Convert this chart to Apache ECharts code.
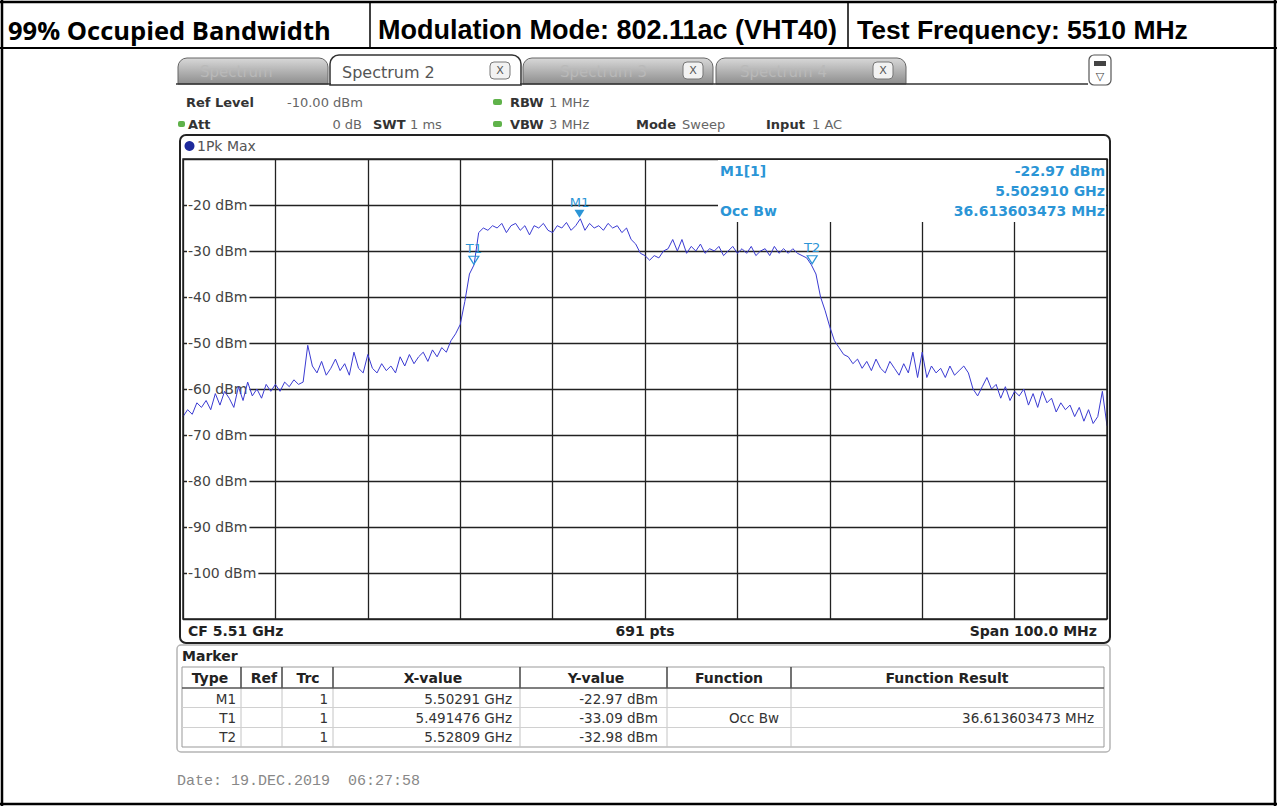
<!DOCTYPE html>
<html>
<head>
<meta charset="utf-8">
<script src="https://cdn.jsdelivr.net/npm/echarts@6/dist/echarts.min.js"></script>
<style>
html,body{margin:0;padding:0;background:#fff;}
#c{width:1277px;height:809px;}
</style>
</head>
<body>
<div id="c"></div>
<script>
// ---- data ----
const freqStartMHz = 5460;
const freqStepMHz = 0.5;
const levels = [
-66,-64.5,-65.5,-63,-64,-62.5,-64.5,-61,-63.5,-60.5,-62,-64,-59.5,-62.5,-58.5,-61.5,-60,-62,-59,-60.5,
-59,-60.5,-58.5,-59.5,-58,-59,-58.5,-50.5,-55,-56.5,-54,-57,-55.5,-53.5,-56,-54.5,-57,-52,-55.5,-56.5,
-52.5,-55.5,-56.5,-54.5,-56,-55,-56.5,-53,-55,-52.5,-54.5,-53,-52,-54,-51.5,-53,-51,-52,-49.5,-48,
-46,-41,-35,-33,-26,-25,-25.5,-24.5,-25,-24,-26,-24.5,-24,-25.5,-24.5,-26.5,-24.5,-25,-24,-25.5,
-26,-24.5,-25,-23.8,-25.5,-24.5,-23,-25.5,-24,-25,-24.5,-25.5,-24,-25,-24.5,-26,-25,-27.5,-28.5,-30.5,
-31,-32,-31,-31.5,-30,-29.5,-27.5,-30,-27.5,-30.5,-29,-30,-28.5,-30.5,-29.5,-30,-29,-31,-30,-29,
-30.5,-29.5,-30.5,-29,-31,-30,-29.5,-31,-29,-30.5,-29.5,-30.5,-29.5,-30.5,-31,-31.5,-33,-35,-40,-43,
-46.5,-49.5,-51,-52.5,-53,-54.5,-53.5,-55.5,-54,-56,-53.5,-55.5,-56.5,-54,-55.5,-57,-54.5,-56.5,-52,-57.5,
-52,-57.5,-55,-56.5,-55.5,-57.5,-55,-57,-56,-55,-56.5,-60,-61.5,-59.5,-57.5,-60,-59,-62,-59.5,-62.5,
-60.5,-61.5,-60,-63.5,-61,-64,-60.5,-63,-62,-65,-63,-64.5,-63.5,-66,-64,-67,-64.5,-67.5,-66,-60.5,
-68
];
const markerNames = ['M1', 'T1', 'T2'];
const markerFreqsMHz = [5502.91, 5491.476, 5528.09];
const markerLevels = [-22.97, -33.09, -32.98];
const xMinMHz = 5460, xMaxMHz = 5560, xStepMHz = 10;
const yMin = -110, yMax = -10, yStep = 10;

const headerTexts = ['99% Occupied Bandwidth', 'Modulation Mode: 802.11ac (VHT40)', 'Test Frequency: 5510 MHz'];
const tableHeader = ['Type', 'Ref', 'Trc', 'X-value', 'Y-value', 'Function', 'Function Result'];
const tableRows = [
  ['M1', '', '1', '5.50291 GHz', '-22.97 dBm', '', ''],
  ['T1', '', '1', '5.491476 GHz', '-33.09 dBm', 'Occ Bw', '36.613603473 MHz'],
  ['T2', '', '1', '5.52809 GHz', '-32.98 dBm', '', '']
];

// ---- chrome helpers ----
const G = [];
function line(x1, y1, x2, y2, stroke, lw, z) {
  G.push({type:'line', silent:true, z: z == null ? 10 : z, shape:{x1, y1, x2, y2}, style:{stroke: stroke || '#000', lineWidth: lw || 1}});
}
function rect(x, y, w, h, style, r, z) {
  G.push({type:'rect', silent:true, z: z == null ? 10 : z, shape:{x, y, width:w, height:h, r: r || 0}, style});
}
function text(x, y, t, font, fill, align, z) {
  align = align || 'left';
  G.push({type:'text', silent:true, z: z == null ? 12 : z, x, y,
    style:{text:t, font, fill: fill || '#000', align, verticalAlign:'middle', textAlign:align, textVerticalAlign:'middle'}});
}
const F = 'DejaVu Sans';
const reg = s => s + 'px "' + F + '"';
const bold = s => 'bold ' + s + 'px "' + F + '"';
const CY = '#2b95d6';
const GREEN = '#5fb24a';

// outer page frame / header
line(0, 2, 1277, 2, '#000', 2.5);
line(0, 48, 1277, 48, '#000', 2);
line(2, 0, 2, 806, '#000', 2.5);
line(1275, 0, 1275, 806, '#000', 2.5);
line(0, 804, 1277, 804, '#000', 2.5);
line(370, 2, 370, 48, '#000', 1.5);
line(848, 2, 848, 48, '#000', 1.5);
text(8, 30, headerTexts[0], 'bold 25.5px "Open Sans"', '#000');
text(378, 30, headerTexts[1], 'bold 27px "Liberation Sans"', '#000');
text(857, 30, headerTexts[2], 'bold 26.5px "Liberation Sans"', '#000');

// tabs
const tabGrad = {type:'linear', x:0, y:0, x2:0, y2:1, colorStops:[{offset:0, color:'#d8d8d8'}, {offset:1, color:'#8e8e8e'}]};
rect(178, 58, 150, 26, {fill: tabGrad, stroke:'#666', lineWidth:1}, [9, 9, 0, 0]);
rect(523, 58, 190, 26, {fill: tabGrad, stroke:'#666', lineWidth:1}, [9, 9, 0, 0]);
rect(716, 58, 190, 26, {fill: tabGrad, stroke:'#666', lineWidth:1}, [9, 9, 0, 0]);
rect(330, 55, 191, 30, {fill:'#fff', stroke:'#333', lineWidth:1.5}, [9, 9, 0, 0], 11);
line(176, 84, 331, 84, '#333', 1.5, 12);
line(520, 84, 1088, 84, '#333', 1.5, 12);
text(200, 72, 'Spectrum', reg(15), '#b9b9b9');
text(342, 72, 'Spectrum 2', reg(16), '#555');
text(560, 72, 'Spectrum 3', reg(15), '#b9b9b9');
text(740, 72, 'Spectrum 4', reg(15), '#b9b9b9');
[[490, 62], [683, 62], [873, 62]].forEach(function (p) {
  rect(p[0], p[1], 20, 17, {fill:'#f2f2f2', stroke:'#777', lineWidth:1}, 4, 13);
  text(p[0] + 10, p[1] + 8.5, 'X', reg(11), '#555', 'center', 14);
});
rect(1089, 55, 22, 30, {fill:'#fff', stroke:'#555', lineWidth:1.2}, 5);
rect(1094, 61, 12, 5, {fill:'#444'}, 0, 12);
text(1100, 76, '\u25BD', reg(11), '#444', 'center');

// settings lines
rect(493, 99, 9, 6, {fill: GREEN}, 2);
rect(493, 121, 9, 6, {fill: GREEN}, 2);
rect(178, 121, 7, 6, {fill: GREEN}, 2);
text(186, 102, 'Ref Level', bold(13), '#333');
text(287, 102, '-10.00 dBm', reg(13), '#666');
text(510, 102, 'RBW', bold(13), '#333');
text(549, 102, '1 MHz', reg(13), '#666');
text(188, 124, 'Att', bold(13), '#333');
text(362, 124, '0 dB', reg(13), '#666', 'right');
text(373, 124, 'SWT', bold(13), '#333');
text(410, 124, '1 ms', reg(13), '#666');
text(510, 124, 'VBW', bold(13), '#333');
text(549, 124, '3 MHz', reg(13), '#666');
text(636, 124, 'Mode', bold(13), '#333');
text(682, 124, 'Sweep', reg(13), '#666');
text(766, 124, 'Input', bold(13), '#333');
text(812, 124, '1 AC', reg(13), '#666');

// trace window frame
rect(180, 135, 930, 508, {fill:'none', stroke:'#222', lineWidth:2}, 6, 4);
rect(183, 159, 924, 460, {fill:'none', stroke:'#222', lineWidth:1.5}, 0, 4);
G.push({type:'circle', silent:true, z:12, shape:{cx:189.5, cy:146, r:5}, style:{fill:'#1f2a9c'}});
text(197, 146, '1Pk Max', reg(14), '#555');
text(188, 631, 'CF 5.51 GHz', bold(14), '#222');
text(645, 631, '691 pts', bold(14), '#222', 'center');
text(1097, 631, 'Span 100.0 MHz', bold(14), '#222', 'right');

// marker info box (top right of diagram)
rect(718, 160, 388, 62, {fill:'#fff'}, 0, 1);
text(720, 171, 'M1[1]', bold(14), CY);
text(1105, 171, '-22.97 dBm', bold(14), CY, 'right');
text(1105, 191, '5.502910 GHz', bold(14), CY, 'right');
text(720, 211, 'Occ Bw', bold(14), CY);
text(1105, 211, '36.613603473 MHz', bold(14), CY, 'right');

// marker table panel
rect(177, 645, 933, 107, {fill:'#fff', stroke:'#b5b5b5', lineWidth:1.5}, 4, 3);
text(182, 656, 'Marker', bold(14), '#222');
rect(182, 667, 922, 80, {fill:'#fff', stroke:'#999', lineWidth:1}, 0, 5);
const colX = [182, 241, 282, 333, 520, 667, 791, 1104];
for (let i = 1; i < colX.length - 1; i++) {
  line(colX[i], 667, colX[i], 688, '#444', 1.5, 7);
  line(colX[i], 688, colX[i], 747, '#c4c4c4', 1, 6);
}
line(182, 688, 1104, 688, '#555', 1.5, 7);
line(182, 707.5, 1104, 707.5, '#d0d0d0', 1, 6);
line(182, 727.5, 1104, 727.5, '#d0d0d0', 1, 6);
const headCx = [210, 264, 308, 433, 596, 729, 947];
tableHeader.forEach(function (h, i) { text(headCx[i], 678, h, bold(14), '#222', 'center'); });
const rightX = [236, 0, 328, 512, 658, 779, 1094];
const rowY = [699, 718, 737];
tableRows.forEach(function (row, r) {
  row.forEach(function (v, c) { if (v) text(rightX[c], rowY[r], v, reg(13.5), '#333', 'right'); });
});
text(177, 781, 'Date: 19.DEC.2019  06:27:58', '15px "Liberation Mono"', '#888');

// ---- chart ----
const chart = echarts.init(document.getElementById('c'), null, {renderer:'svg'});
const traceData = levels.map(function (v, i) { return [freqStartMHz + i * freqStepMHz, v]; });
chart.setOption({
  animation: false,
  grid: {left:183, top:159, width:924, height:460, containLabel:false},
  xAxis: {type:'value', min:xMinMHz, max:xMaxMHz, interval:xStepMHz,
    axisLine:{show:false}, axisTick:{show:false}, axisLabel:{show:false},
    splitLine:{show:true, lineStyle:{color:'#222', width:1.3}}},
  yAxis: [
    {type:'value', min:yMin, max:yMax, interval:yStep,
      axisLine:{show:false}, axisTick:{show:false}, axisLabel:{show:false},
      splitLine:{show:true, lineStyle:{color:'#222', width:1.3}}},
    {type:'value', min:yMin, max:yMax, interval:yStep, position:'left', z:2,
      axisLine:{show:false}, axisTick:{show:false}, splitLine:{show:false},
      axisLabel:{show:true, inside:true, margin:4, showMinLabel:false, showMaxLabel:false,
        formatter: function (v) { return v + ' dBm'; },
        color:'#444', fontSize:14, fontFamily:F, backgroundColor:'#fff', padding:[1, 2, 1, 1]}}
  ],
  series: [{
    type:'line', z:3, data:traceData, showSymbol:false, symbol:'none',
    lineStyle:{color:'#3a3ad2', width:1}, silent:true,
    markPoint: {
      silent:true,
      data: markerNames.map(function (n, i) {
        return {name:n, coord:[markerFreqsMHz[i], markerLevels[i]], symbol:'triangle', symbolRotate:180,
          symbolSize:[10, 8], symbolOffset:[0, -5],
          itemStyle: i === 0 ? {color:CY} : {color:'rgba(255,255,255,0)', borderColor:CY, borderWidth:1.2},
          label:{show:true, position:'top', distance:1, formatter:n, color:CY, fontSize:13, fontFamily:F}};
      })
    }
  }],
  graphic: G
});
</script>
</body>
</html>
